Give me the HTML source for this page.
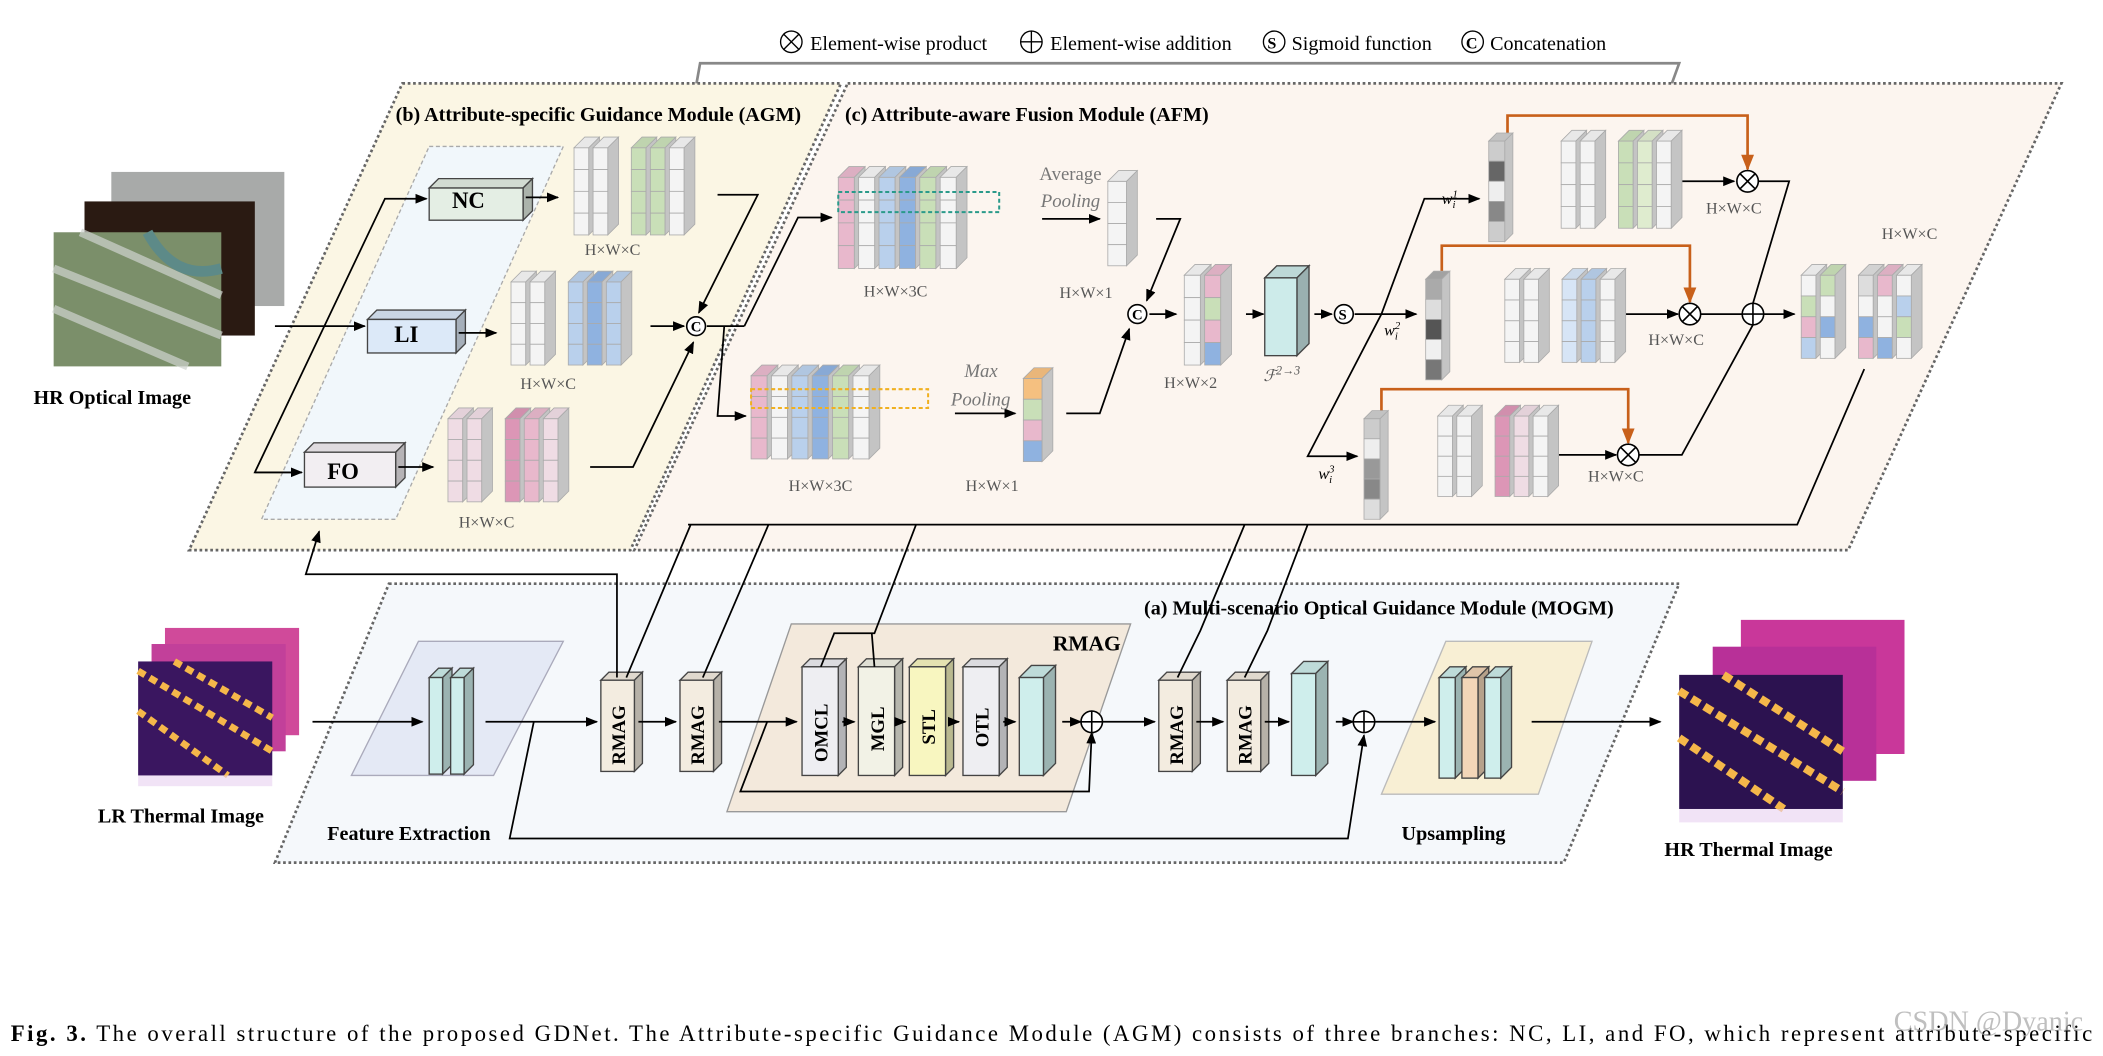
<!DOCTYPE html>
<html><head><meta charset="utf-8"><style>
html,body{margin:0;padding:0;background:#fff;}
svg{display:block;}
text{font-family:"Liberation Serif",serif;}
.b{font-weight:bold;}
.lbl{fill:#555;font-size:12px;}
</style></head><body>
<svg id="s" width="2103" height="1056" viewBox="0 0 1568 787" xmlns="http://www.w3.org/2000/svg">
<defs>
<marker id="a" viewBox="0 0 10 10" refX="9" refY="5" markerWidth="7" markerHeight="7" orient="auto"><path d="M0,1 L10,5 L0,9 z" fill="#000"/></marker>
<marker id="ag" viewBox="0 0 10 10" refX="9" refY="5" markerWidth="7" markerHeight="7" orient="auto"><path d="M0,1 L10,5 L0,9 z" fill="#777"/></marker>
<marker id="ao" viewBox="0 0 10 10" refX="9" refY="5" markerWidth="6" markerHeight="6" orient="auto"><path d="M0,1 L10,5 L0,9 z" fill="#c8601a"/></marker>
</defs>
<g font-size="15">
<circle cx="590" cy="31" r="8" fill="none" stroke="#000"/><path d="M584,25 L596,37 M596,25 L584,37" stroke="#000"/>
<text x="604" y="37">Element-wise product</text>
<circle cx="769" cy="31" r="8" fill="none" stroke="#000"/><path d="M761,31 H777 M769,23 V39" stroke="#000"/>
<text x="783" y="37">Element-wise addition</text>
<circle cx="950" cy="31" r="8" fill="none" stroke="#000"/><text x="945" y="36" font-size="12" class="b">S</text>
<text x="963" y="37">Sigmoid function</text>
<circle cx="1098" cy="31" r="8" fill="none" stroke="#000"/><text x="1093" y="36" font-size="12" class="b">C</text>
<text x="1111" y="37">Concatenation</text>
</g>
<polyline points="517,75 522,47 1252,47 1240,80" fill="none" stroke="#888" stroke-width="2" marker-end="url(#ag)"/>
<polygon points="300,62 627,62 470,410 141,410" fill="#fbf6e4" stroke="#666" stroke-width="2" stroke-dasharray="2,2"/>
<polygon points="632,62 1537,62 1378,410 473,410" fill="#fcf5ef" stroke="#666" stroke-width="2" stroke-dasharray="2,2"/>
<polygon points="290,435 1252,435 1166,643 205,643" fill="#f5f8fb" stroke="#666" stroke-width="2" stroke-dasharray="2,2"/>
<polygon points="320,109 420,109 295,387 195,387" fill="#f1f7fb" stroke="#aaa" stroke-dasharray="3,2"/>
<text x="295" y="90" font-size="15" class="b">(b) Attribute-specific Guidance Module (AGM)</text>
<text x="630" y="90" font-size="15" class="b">(c)  Attribute-aware Fusion Module (AFM)</text>
<text x="853" y="458" font-size="15" class="b">(a) Multi-scenario Optical Guidance Module (MOGM)</text>
<rect x="83" y="128" width="129" height="100" fill="#a8aaa9"/>
<rect x="63" y="150" width="127" height="100" fill="#2a1a12"/>
<rect x="40" y="173" width="125" height="100" fill="#7b8f6a"/>
<path d="M40,200 L165,250 M40,230 L140,273 M60,173 L165,220" stroke="#cfd4d0" stroke-width="6" opacity=".7"/>
<path d="M110,173 Q130,210 165,200" stroke="#5d8a88" stroke-width="8" fill="none"/>
<text x="25" y="301" font-size="15" class="b">HR Optical Image</text>
<g id="boxes"></g>
<text x="337" y="155" font-size="17" class="b">NC</text>
<text x="294" y="255" font-size="17" class="b">LI</text>
<text x="244" y="357" font-size="17" class="b">FO</text>
<g stroke="#000" fill="none" stroke-width="1.3">
<line x1="205" y1="243" x2="272" y2="243" marker-end="url(#a)"/>
<polyline points="225,352 190,352 287,148 318,148" marker-end="url(#a)"/>
<line x1="190" y1="352" x2="225" y2="352" marker-end="url(#a)"/>
<line x1="392" y1="147" x2="416" y2="147" marker-end="url(#a)"/>
<line x1="342" y1="248" x2="370" y2="248" marker-end="url(#a)"/>
<line x1="297" y1="348" x2="323" y2="348" marker-end="url(#a)"/>
<polyline points="535,145 565,145 521,233" marker-end="url(#a)"/>
<polyline points="440,348 472,348 517,255" marker-end="url(#a)"/>
<line x1="485" y1="243" x2="510" y2="243" marker-end="url(#a)"/>
<line x1="527" y1="243" x2="555" y2="243"/>
<polyline points="555,243 595,162 620,162" marker-end="url(#a)"/>
<polyline points="540,243 535,310 556,310" marker-end="url(#a)"/>
<line x1="777" y1="163" x2="820" y2="163" marker-end="url(#a)"/>
<polyline points="862,163 880,163 855,224" marker-end="url(#a)"/>
<line x1="712" y1="308" x2="757" y2="308" marker-end="url(#a)"/>
<polyline points="795,308 820,308 842,245" marker-end="url(#a)"/>
<line x1="857" y1="234" x2="877" y2="234" marker-end="url(#a)"/>
<line x1="929" y1="234" x2="942" y2="234" marker-end="url(#a)"/>
<line x1="980" y1="234" x2="993" y2="234" marker-end="url(#a)"/>
<line x1="1010" y1="234" x2="1056" y2="234" marker-end="url(#a)"/>
<polyline points="1030,234 1062,148 1103,148" marker-end="url(#a)"/>
<polyline points="1030,234 975,340 1012,340" marker-end="url(#a)"/>
<line x1="1252" y1="135" x2="1293" y2="135" marker-end="url(#a)"/>
<line x1="1210" y1="234" x2="1251" y2="234" marker-end="url(#a)"/>
<line x1="1162" y1="339" x2="1205" y2="339" marker-end="url(#a)"/>
<polyline points="1311,135 1334,135 1307,226"/>
<polyline points="1222,339 1254,339 1307,242"/>
<line x1="1268" y1="234" x2="1299" y2="234"/>
<line x1="1315" y1="234" x2="1338" y2="234" marker-end="url(#a)"/>
<polyline points="1390,275 1340,391 513,391"/>
</g>
<g stroke="#c8601a" fill="none" stroke-width="2">
<polyline points="1124,111 1124,86 1303,86 1303,126" marker-end="url(#ao)"/>
<polyline points="1075,212 1075,183 1260,183 1260,225" marker-end="url(#ao)"/>
<polyline points="1030,312 1030,290 1214,290 1214,330" marker-end="url(#ao)"/>
</g>
<g fill="#fff" stroke="#000" stroke-width="1.2">
<circle cx="519" cy="243" r="7"/><circle cx="848" cy="234" r="7"/><circle cx="1002" cy="234" r="7"/>
<circle cx="1303" cy="135" r="8"/><circle cx="1260" cy="234" r="8"/><circle cx="1214" cy="339" r="8"/><circle cx="1307" cy="234" r="8"/>
</g>
<g stroke="#000" stroke-width="1.2">
<path d="M1297,129 L1309,141 M1309,129 L1297,141 M1254,228 L1266,240 M1266,228 L1254,240 M1208,333 L1220,345 M1220,333 L1208,345 M1299,234 H1315 M1307,226 V242"/>
</g>
<g font-size="11" class="b"><text x="515" y="247">C</text><text x="844" y="238">C</text><text x="998" y="238">S</text></g>
<g id="blocks"></g>
<g class="lbl" font-size="12">
<text x="436" y="190">H×W×C</text><text x="388" y="290">H×W×C</text><text x="342" y="393">H×W×C</text>
<text x="644" y="221">H×W×3C</text><text x="588" y="366">H×W×3C</text>
<text x="790" y="222">H×W×1</text><text x="720" y="366">H×W×1</text>
<text x="868" y="289">H×W×2</text><text x="942" y="284" font-style="italic">ℱ<tspan font-size="9" dy="-5">2→3</tspan></text>
<text x="1272" y="159">H×W×C</text><text x="1229" y="257">H×W×C</text><text x="1184" y="359">H×W×C</text><text x="1403" y="178">H×W×C</text>
<text x="775" y="134" font-size="14" fill="#777">Average</text><text x="776" y="154" font-size="14" font-style="italic" fill="#777">Pooling</text>
<text x="719" y="281" font-size="14" font-style="italic" fill="#777">Max</text><text x="709" y="302" font-size="14" font-style="italic" fill="#777">Pooling</text>
</g>
<g font-size="12" font-style="italic"><text x="1075" y="152">w<tspan font-size="8" dy="-5">1</tspan><tspan font-size="8" dx="-4" dy="8">i</tspan></text>
<text x="1032" y="250">w<tspan font-size="8" dy="-5">2</tspan><tspan font-size="8" dx="-4" dy="8">i</tspan></text>
<text x="983" y="357">w<tspan font-size="8" dy="-5">3</tspan><tspan font-size="8" dx="-4" dy="8">i</tspan></text></g>
<rect x="123" y="468" width="100" height="80" fill="#d04a9a"/>
<rect x="113" y="480" width="100" height="80" fill="#c2409a"/>
<rect x="103" y="493" width="100" height="85" fill="#3a1660"/>
<path d="M103,500 L203,560 M103,530 L170,578 M130,493 L203,535" stroke="#f5b74a" stroke-width="5" stroke-dasharray="6,4"/>
<rect x="103" y="578" width="100" height="8" fill="#e8d0f0" opacity=".6"/>
<text x="73" y="613" font-size="15" class="b">LR Thermal Image</text>
<rect x="1298" y="462" width="122" height="100" fill="#c9379a"/>
<rect x="1277" y="482" width="122" height="100" fill="#b83098"/>
<rect x="1252" y="503" width="122" height="100" fill="#2c1250"/>
<path d="M1252,515 L1374,590 M1252,550 L1330,603 M1285,503 L1374,560" stroke="#f5b74a" stroke-width="6" stroke-dasharray="7,4"/>
<rect x="1252" y="603" width="122" height="10" fill="#e8d0f0" opacity=".6"/>
<text x="1241" y="638" font-size="15" class="b">HR Thermal Image</text>
<polygon points="312,478 420,478 368,578 262,578" fill="#e4e9f5" stroke="#aab"/>
<polygon points="590,465 843,465 795,605 542,605" fill="#f3e9dc" stroke="#999"/>
<polygon points="1078,478 1187,478 1147,592 1030,592" fill="#f8efd4" stroke="#bbb"/>
<text x="244" y="626" font-size="15" class="b">Feature Extraction</text>
<text x="1045" y="626" font-size="15" class="b">Upsampling</text>
<text x="785" y="485" font-size="16" class="b">RMAG</text>
<g id="mboxes"></g>
<g stroke="#000" fill="none" stroke-width="1.3">
<line x1="233" y1="538" x2="315" y2="538" marker-end="url(#a)"/>
<line x1="362" y1="538" x2="445" y2="538" marker-end="url(#a)"/>
<line x1="476" y1="538" x2="504" y2="538" marker-end="url(#a)"/>
<line x1="536" y1="538" x2="594" y2="538" marker-end="url(#a)"/>
<line x1="628" y1="538" x2="637" y2="538" marker-end="url(#a)"/>
<line x1="670" y1="538" x2="675" y2="538" marker-end="url(#a)"/>
<line x1="708" y1="538" x2="715" y2="538" marker-end="url(#a)"/>
<line x1="748" y1="538" x2="757" y2="538" marker-end="url(#a)"/>
<line x1="792" y1="538" x2="806" y2="538" marker-end="url(#a)"/>
<polyline points="572,538 552,590 812,590 814,546" marker-end="url(#a)"/>
<line x1="822" y1="538" x2="861" y2="538" marker-end="url(#a)"/>
<line x1="892" y1="538" x2="912" y2="538" marker-end="url(#a)"/>
<line x1="943" y1="538" x2="961" y2="538" marker-end="url(#a)"/>
<line x1="996" y1="538" x2="1009" y2="538" marker-end="url(#a)"/>
<line x1="1025" y1="538" x2="1070" y2="538" marker-end="url(#a)"/>
<line x1="1142" y1="538" x2="1238" y2="538" marker-end="url(#a)"/>
<polyline points="398,538 380,625 1005,625 1017,548" marker-end="url(#a)"/>
<polyline points="460,505 460,428 228,428 238,396" marker-end="url(#a)"/>
<polyline points="467,505 515,391"/><polyline points="524,505 573,391"/>
<polyline points="612,497 622,472 652,472 683,391"/><polyline points="652,497 650,472"/>
<polyline points="878,505 895,470 928,391"/><polyline points="928,505 945,470 975,391"/>
</g>
<g fill="#fff" stroke="#000" stroke-width="1.2"><circle cx="814" cy="538" r="8"/><circle cx="1017" cy="538" r="8"/></g>
<path d="M806,538 H822 M814,530 V546 M1009,538 H1025 M1017,530 V546" stroke="#000" stroke-width="1.2"/>
<g font-size="14" class="b">
<text transform="translate(466,570) rotate(-90)">RMAG</text>
<text transform="translate(525,570) rotate(-90)">RMAG</text>
<text transform="translate(882,570) rotate(-90)">RMAG</text>
<text transform="translate(933,570) rotate(-90)">RMAG</text>
<text transform="translate(617,568) rotate(-90)">OMCL</text>
<text transform="translate(659,560) rotate(-90)">MGL</text>
<text transform="translate(697,555) rotate(-90)">STL</text>
<text transform="translate(737,557) rotate(-90)">OTL</text>
</g>
<text x="8" y="776" font-size="17" textLength="1552" lengthAdjust="spacing"><tspan class="b">Fig. 3.</tspan>  The overall structure of the proposed GDNet. The Attribute-specific Guidance Module (AGM) consists of three branches: NC, LI, and FO, which represent attribute-specific</text>
<text x="1412" y="768" font-size="21" fill="#aaa" font-family="Liberation Sans,sans-serif" opacity=".75">CSDN @Dyanic</text>
</svg>
<script>
var NS="http://www.w3.org/2000/svg";
function el(p,t,a){var e=document.createElementNS(NS,t);for(var k in a)e.setAttribute(k,a[k]);p.appendChild(e);return e;}
function shade(c,f){var n=parseInt(c.slice(1),16),r=(n>>16)&255,g=(n>>8)&255,b=n&255;r=Math.round(r*f);g=Math.round(g*f);b=Math.round(b*f);return "rgb("+r+","+g+","+b+")";}
function box3(p,x,y,w,h,c,d){d=d||7;
el(p,"polygon",{points:[x,y,x+d,y-d,x+w+d,y-d,x+w,y].join(","),fill:shade(c,.92),stroke:"#444"});
el(p,"polygon",{points:[x+w,y,x+w+d,y-d,x+w+d,y+h-d,x+w,y+h].join(","),fill:shade(c,.75),stroke:"#444"});
el(p,"rect",{x:x,y:y,width:w,height:h,fill:c,stroke:"#444"});}
function col(p,x,y,w,h,rows,c,d){var ch=h/rows;
for(var i=0;i<rows;i++){el(p,"rect",{x:x,y:y+i*ch,width:w,height:ch,fill:c[i%c.length],stroke:"#aaa","stroke-width":.6});}
el(p,"polygon",{points:[x,y,x+d,y-d,x+w+d,y-d,x+w,y].join(","),fill:shade(c[0],.95),stroke:"#aaa","stroke-width":.6});
el(p,"polygon",{points:[x+w,y,x+w+d,y-d,x+w+d,y+h-d,x+w,y+h].join(","),fill:"#c4c4c4",stroke:"#aaa","stroke-width":.6});}
function blk(p,x,y,h,cols,cw,rows,d){var xx=x;cols.forEach(function(c){if(c==="gap"){xx+=cw*1.3;return;}col(p,xx,y,cw,h,rows,c,d);xx+=cw+d*0.4;});}
var B=document.getElementById("blocks"),W="#f4f4f4",G="#c9dfb8",Bl="#b9d0ec",Bd="#8fb2e0",P="#e8b8cc",Pd="#dc96b6",Pl="#efdce4";
blk(B,428,110,65,[[W],[W],"gap",[G],[G],[W]],11,4,8);
blk(B,381,210,62,[[W],[W],"gap",[Bl],[Bd],[Bl]],11,4,8);
blk(B,334,312,62,[[Pl],[Pl],"gap",[Pd],[P],[Pl]],11,4,8);
blk(B,625,132,68,[[P],[W],[Bl],[Bd],[G],[W]],12,4,8);
blk(B,560,280,62,[[P],[W],[Bl],[Bd],[G],[W]],12,4,8);
el(B,"rect",{x:625,y:143,width:120,height:15,fill:"none",stroke:"#2a9a8a","stroke-width":1.5,"stroke-dasharray":"3,2"});
el(B,"rect",{x:560,y:290,width:132,height:14,fill:"none",stroke:"#f0b020","stroke-width":1.5,"stroke-dasharray":"3,2"});
blk(B,826,135,63,[[W]],14,4,8);
blk(B,763,282,62,[["#f5c080",G,P,Bd]],14,4,8);
blk(B,883,205,67,[[W],[P,G,P,Bd]],12,4,8);
box3(B,943,207,24,58,"#cdebea",9);
blk(B,1110,105,75,[["#cccccc","#666666","#eeeeee","#888888"]],12,5,6);
blk(B,1063,208,75,[["#aaaaaa","#dddddd","#555555","#f0f0f0","#777777"]],12,5,6);
blk(B,1017,312,75,[["#cccccc","#eeeeee","#999999","#888888","#dddddd"]],12,5,6);
blk(B,1164,105,65,[[W],[W],"gap",[G],["#dfeccf"],[W]],11,4,8);
blk(B,1122,208,62,[[W],[W],"gap",["#d7e5f6"],[Bl],[W]],11,4,8);
blk(B,1072,310,60,[[W],[W],"gap",[Pd],[Pl],[W]],11,4,8);
blk(B,1343,205,62,[[W,G,P,Bl],[G,W,Bd,W],"gap",["#dddddd",W,Bd,P],[P,W,W,Bd],[W,Bl,G,W]],11,4,8);
var M=document.getElementById("boxes");
box3(M,320,140,70,24,"#e4eee4");box3(M,274,238,66,25,"#dce9f8");box3(M,227,337,68,26,"#f2eef2");
var MB=document.getElementById("mboxes");
[[448,"#f3ece0"],[507,"#f3ece0"],[864,"#f3ece0"],[915,"#f3ece0"]].forEach(function(a){box3(MB,a[0],507,25,68,a[1],6);});
box3(MB,598,497,27,81,"#eeeef2",6);box3(MB,640,497,27,81,"#f2f2e6",6);box3(MB,678,497,27,81,"#f8f6c0",6);box3(MB,718,497,27,81,"#eeeef2",6);
box3(MB,760,505,18,73,"#cfeeec",9);box3(MB,963,502,18,76,"#cfeeec",9);
box3(MB,320,505,10,72,"#cfeeec",7);box3(MB,336,505,10,72,"#cfeeec",7);
box3(MB,1073,505,12,75,"#cfeeec",8);box3(MB,1090,505,12,75,"#f3d6b8",8);box3(MB,1107,505,12,75,"#cfeeec",8);
</script>
</body></html>
